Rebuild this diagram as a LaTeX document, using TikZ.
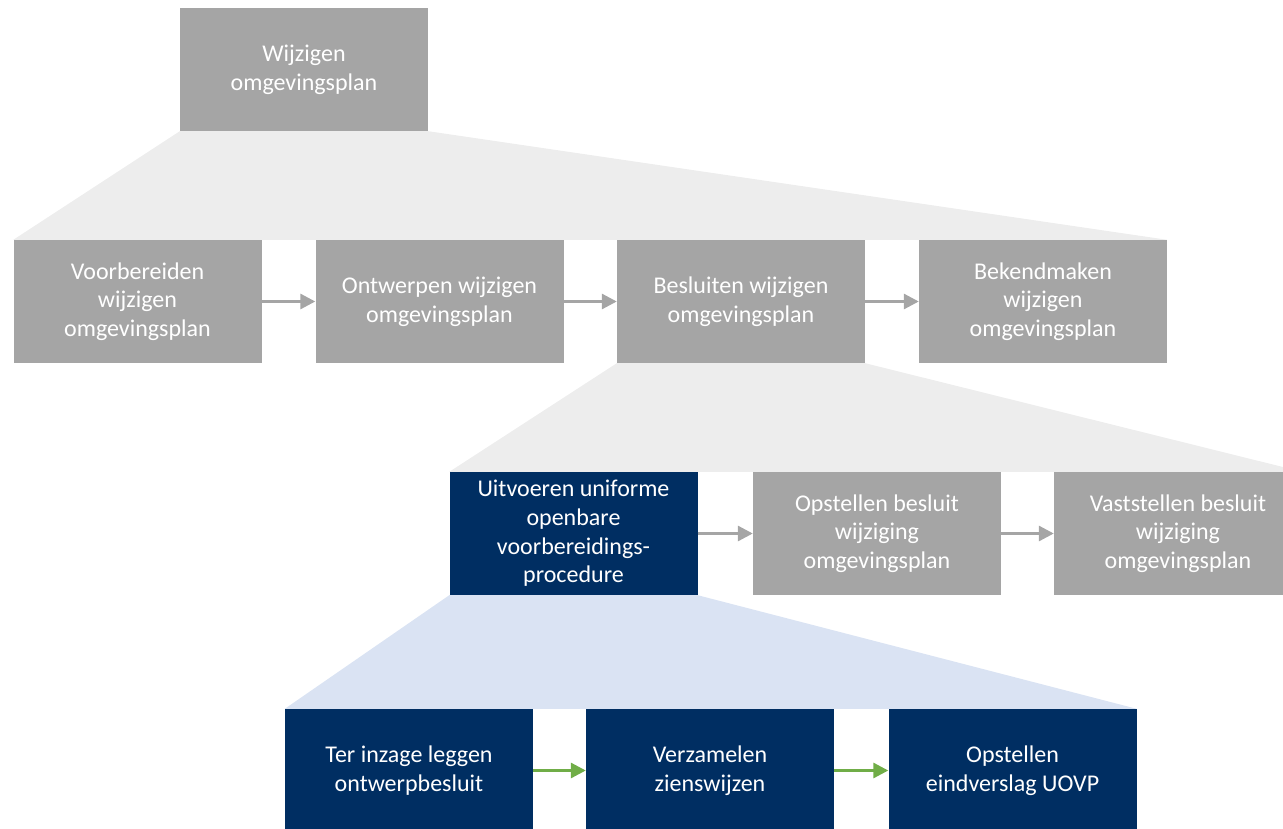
\documentclass[tikz,border=0pt]{standalone}
\usepackage{fontspec}
\setmainfont{Carlito}
\usepackage{tikz}
\usetikzlibrary{arrows.meta,backgrounds}
\definecolor{box_gray}{RGB}{165, 165, 165}
\definecolor{box_blue}{RGB}{0, 46, 98}
\definecolor{fan_gray}{RGB}{237, 237, 237}
\definecolor{fan_blue}{RGB}{218, 227, 243}
\definecolor{arr_green}{RGB}{112, 173, 71}
\tikzstyle{gb}=[rectangle,fill=box_gray,text=white,align=center,inner sep=0pt,
  minimum width=248pt,minimum height=123pt,font=\fontsize{24}{28.7}\selectfont]
\tikzstyle{bb}=[gb,fill=box_blue]
\tikzstyle{ga}=[draw=box_gray,line width=3pt,-{Triangle[length=15pt,width=15pt]}]
\tikzstyle{gra}=[ga,draw=arr_green]

\begin{document}
\begin{tikzpicture}[x=1pt,y=-1pt]
        \useasboundingbox (0,0) rectangle (1283,829);
        \clip (0,0) rectangle (1283,829);
        \node[style=gb] (0) at (304,69.5) {Wijzigen\\omgevingsplan};
        \node[style=gb] (1) at (137.5,301.5) {Voorbereiden\\wijzigen\\omgevingsplan};
        \node[style=gb] (2) at (439.5,301.5) {Ontwerpen wijzigen\\omgevingsplan};
        \node[style=gb] (3) at (741,301.5) {Besluiten wijzigen\\omgevingsplan};
        \node[style=gb] (4) at (1043,301.5) {Bekendmaken\\wijzigen\\omgevingsplan};
        \node[style=bb] (5) at (573.5,533.5) {Uitvoeren uniforme\\openbare\\voorbereidings-\\procedure};
        \node[style=gb] (6) at (877,533.5) {Opstellen besluit\\wijziging\\omgevingsplan};
        \node[style=gb] (7) at (1178,533.5) {Vaststellen besluit\\wijziging\\omgevingsplan};
        \node[style=bb] (8) at (409,770.5) {Ter inzage leggen\\ontwerpbesluit};
        \node[style=bb] (9) at (710,770.5) {Verzamelen\\zienswijzen};
        \node[style=bb] (10) at (1012.5,770.5) {Opstellen\\eindverslag UOVP};
        \draw[style=ga] (1) to (2);
        \draw[style=ga] (2) to (3);
        \draw[style=ga] (3) to (4);
        \draw[style=ga] (5) to (6);
        \draw[style=ga] (6) to (7);
        \draw[style=gra] (8) to (9);
        \draw[style=gra] (9) to (10);
        \begin{pgfonlayer}{background}
        \fill[fan_gray] (0.south west) -- (0.south east) -- (4.north east) -- (1.north west) -- cycle;
        \fill[fan_gray] (3.south west) -- (3.south east) -- (7.north east) -- (5.north west) -- cycle;
        \fill[fan_blue] (5.south west) -- (5.south east) -- (10.north east) -- (8.north west) -- cycle;
        \end{pgfonlayer}
    \end{tikzpicture}
\end{document}
